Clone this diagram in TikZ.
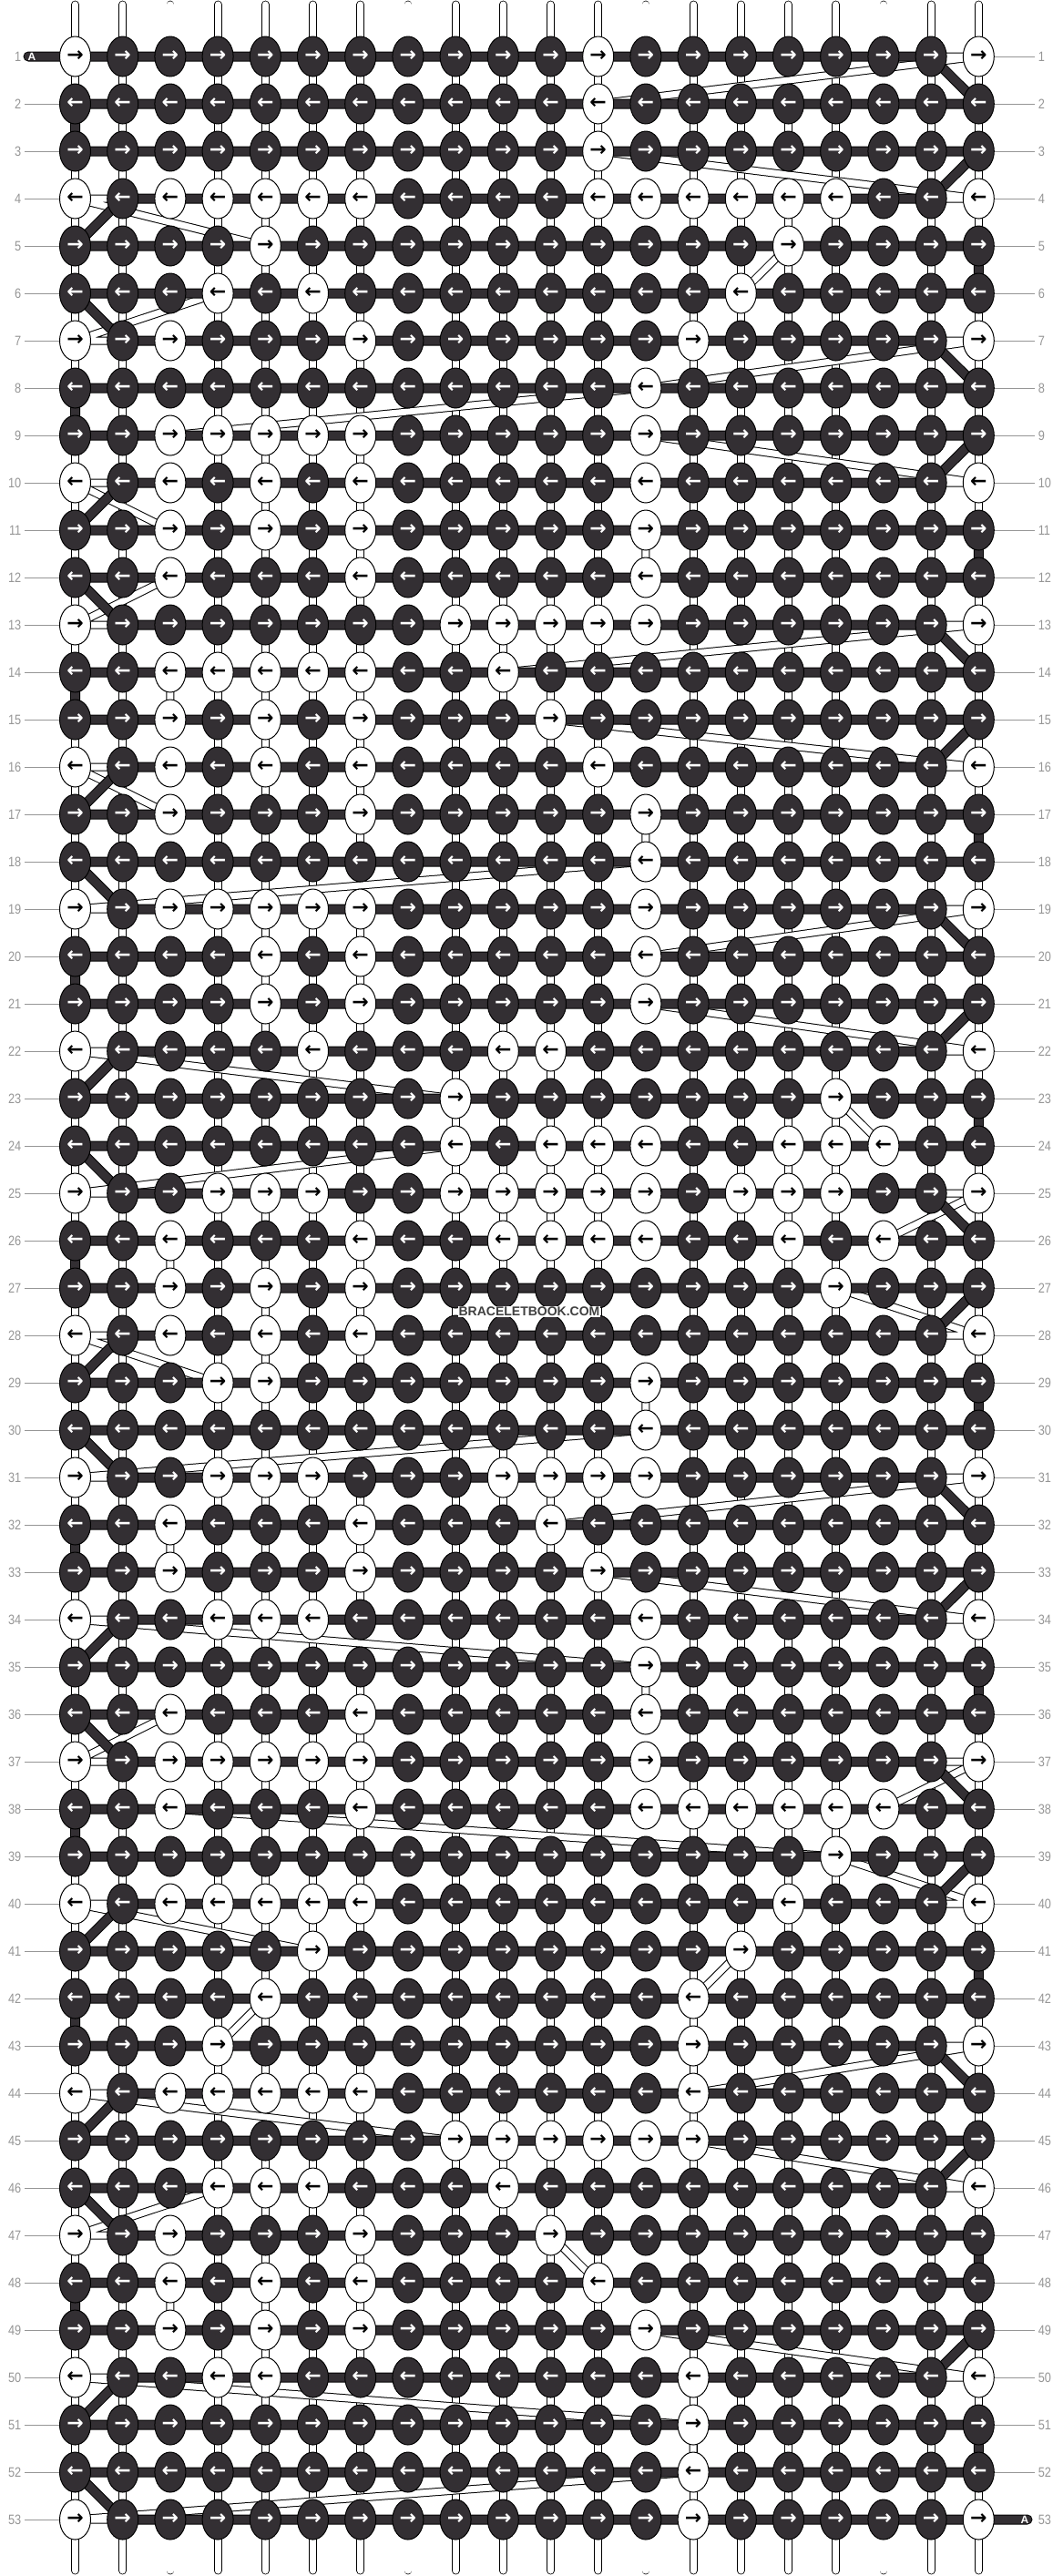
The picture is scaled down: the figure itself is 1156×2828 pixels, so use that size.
\documentclass[tikz,border=0pt]{standalone}
\usepackage{fontspec}
\setmainfont{Liberation Sans}
\newfontfamily\arrowfont{DejaVu Sans}
\usetikzlibrary{shapes.geometric, backgrounds}

\definecolor{darkthread}{RGB}{51,47,51}
\definecolor{rowgray}{RGB}{150,150,150}

\newcommand\whiteknots{{1,12,20},{12},{12},{1,3,4,5,6,7,12,13,14,15,16,17,20},%
{5,16},{4,6,15},{1,3,7,14,20},{13},{3,4,5,6,7,13},{1,3,5,7,13,20},{3,5,7,13},%
{3,7,13},{1,9,10,11,12,13,20},{3,4,5,6,7,10},{3,5,7,11},{1,3,5,7,12,20},{3,7,13},%
{13},{1,3,4,5,6,7,13,20},{5,7,13},{5,7,13},{1,6,10,11,20},{9,17},%
{9,11,12,13,16,17,18},{1,4,5,6,9,10,11,12,13,15,16,17,20},{3,7,10,11,12,13,16,18},%
{3,5,7,17},{1,3,5,7,20},{4,5,13},{13},{1,4,5,6,10,11,12,13,20},{3,7,11},{3,7,12},%
{1,4,5,6,13,20},{13},{3,7,13},{1,3,4,5,6,7,13,20},{3,7,13,14,15,16,17,18},{17},%
{1,3,4,5,6,7,16,20},{6,15},{5,14},{4,14,20},{1,3,4,5,6,7,14},{9,10,11,12,13,14},%
{4,5,6,10,20},{1,3,7,11},{3,5,7,12},{3,5,7,13},{1,4,5,14,20},{14},{14},{1,14,20}}

\begin{document}
\begin{tikzpicture}[x=0.5pt, y=-0.5pt,
  knot/.style={ellipse, draw=black, line width=0.5pt, minimum width=17pt,
    minimum height=22pt, inner sep=0pt,
    font=\arrowfont\bfseries\fontsize{11}{11}\selectfont},
  base string/.style={draw=black, line width=0.4pt, double=white,
    double distance=3.6pt, line cap=round},
  light string/.style={draw=black, line width=0.5pt, double=white,
    double distance=3.5pt, line join=round},
  dark string/.style={draw=black, line width=0.5pt, double=darkthread,
    double distance=4.5pt, line join=round, line cap=round},
  row label/.style={text=rowgray, inner sep=2pt, xscale=0.85,
    font=\fontsize{7.5}{7.5}\selectfont},
  row line/.style={draw=rowgray, line width=0.5pt},
  tag letter/.style={text=white, inner sep=0pt, font=\bfseries\fontsize{6}{6}\selectfont},
  watermark/.style={text=black!75, fill=white, inner sep=0.5pt,
    font=\bfseries\fontsize{7}{7}\selectfont}]

\useasboundingbox (0,0) rectangle (1156,2828);

\foreach \row [count=\ri] in \whiteknots {
  \foreach \ci in \row {\expandafter\gdef\csname wk-\ri-\ci\endcsname{}}
}

\foreach \ri in {1,...,53}{
  \foreach \ci in {1,...,20}{
    \ifodd\ri\relax \def\arr{→}\else \def\arr{←}\fi
    \ifcsname wk-\ri-\ci\endcsname
      \def\kfill{white}\def\ktext{black}%
    \else
      \def\kfill{darkthread}\def\ktext{white}%
    \fi
    \node[knot, fill=\kfill, text=\ktext] (k-\ri-\ci)
      at ({82.5+52.2*(\ci-1)},{62+52*(\ri-1)}) {\arr};
  }
}

\foreach \ci in {1,...,20}{
  \coordinate (top-\ci) at ({82.5+52.2*(\ci-1)},5);
  \coordinate (bottom-\ci) at ({82.5+52.2*(\ci-1)},2822);
}
\coordinate (tag start) at (31,62);
\coordinate (tag end) at (1128,2766);

\gdef\darkpath{}\gdef\lightpath{}
\foreach \ri in {1,...,53}{
  \foreach \ii in {1,...,20}{
    \ifodd\ri\relax \edef\ci{\ii}\else \pgfmathtruncatemacro\ci{21-\ii}\fi
    \ifcsname wk-\ri-\ci\endcsname
      \xdef\lightpath{\lightpath -- (k-\ri-\ci.center)}%
    \else
      \xdef\darkpath{\darkpath -- (k-\ri-\ci.center)}%
    \fi
  }
}

\begin{scope}[on background layer]
  \fill[white] (0,0) rectangle (1156,2828);
  \foreach \ci in {1,...,20}
    \draw[base string] (top-\ci) -- (bottom-\ci);
  \edef\temp{\noexpand\draw[light string] (k-1-1.center)\lightpath;}\temp
  \edef\temp{\noexpand\draw[dark string] (tag start)\darkpath -- (tag end);}\temp
\end{scope}

\foreach \ri in {1,...,53}{
  \node[row label, anchor=east] (ll-\ri) at (27,{62+52*(\ri-1)}) {\ri};
  \node[row label, anchor=west] (rl-\ri) at (1136,{62+52*(\ri-1)}) {\ri};
  \ifnum\ri>1 \draw[row line] (ll-\ri) -- (k-\ri-1);\fi
  \ifnum\ri<53 \draw[row line] (k-\ri-20) -- (rl-\ri);\fi
}

\node[tag letter] (tag letter start) at (35,62) {A};
\node[tag letter] (tag letter end) at (1125,2766) {A};
\node[watermark] (brand) at (581,1440) {BRACELETBOOK.COM};

\end{tikzpicture}
\end{document}
